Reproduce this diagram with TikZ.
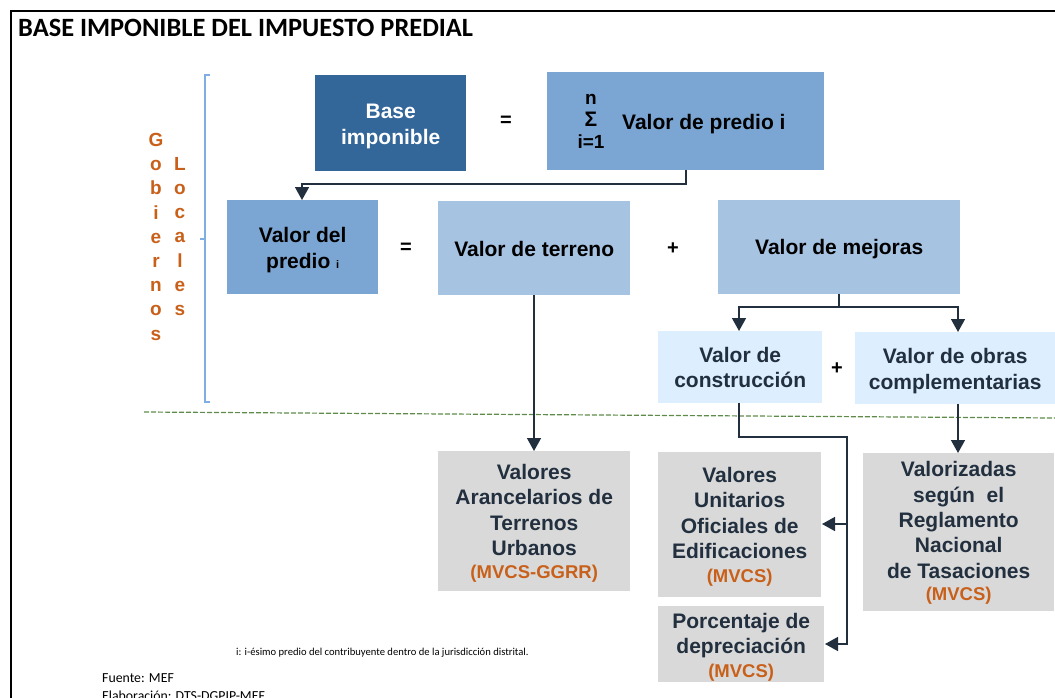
\documentclass[tikz,border=0pt]{standalone}
\usepackage{fontspec}
\setmainfont{Liberation Sans}
\newfontfamily\calib{Carlito}
\usetikzlibrary{arrows.meta,calc}
\definecolor{cDark}{HTML}{336699}
\definecolor{cMid}{HTML}{7BA6D3}
\definecolor{cSoft}{HTML}{A6C3E2}
\definecolor{cPale}{HTML}{DDEEFF}
\definecolor{cGray}{HTML}{D9D9D9}
\definecolor{cInk}{HTML}{222F3E}
\definecolor{cOrange}{HTML}{C8601A}
\definecolor{cBrack}{HTML}{7FAEE3}
\definecolor{cGreen}{HTML}{5E8A4A}
\newcommand\up[1]{\rule{0pt}{\dimexpr 15pt+#1pt*2\relax}}
\newcommand\org[1]{{\color{cOrange}\fontsize{18.5}{18.5}\selectfont #1}}
\tikzset{
  x=1pt,y=-1pt,
  box/.style n args={5}{draw=none,fill=#5,inner sep=0pt,minimum width=#3-#1,minimum height=#4-#2,
    anchor=north west,at={(#1,#2)},align=center,text=cInk,font=\bfseries\fontsize{21}{25.4}\selectfont},
  link/.style={draw=cInk,line width=1.5pt,-{Triangle[length=13pt,width=14pt]}},
  plain/.style={draw=cInk,line width=1.5pt},
  op/.style={font=\bfseries\fontsize{20}{20}\selectfont,text=black,inner sep=0pt},
  vert/.style={font=\bfseries\fontsize{19}{24.2}\selectfont,text=cOrange,align=center,anchor=north,inner sep=0pt},
}
\begin{document}
\begin{tikzpicture}
\useasboundingbox (0,0) rectangle (1055,698);
% frame
\draw[line width=2pt,black] (11,698) -- (11,11) -- (1055,11);
\node[anchor=west,inner sep=0pt,font=\calib\bfseries\fontsize{26.4}{26.4}\selectfont] (title) at (18,28) {BASE IMPONIBLE DEL IMPUESTO PREDIAL};
% bracket
\draw[cBrack,line width=1.1pt] (210,75) -- (205,75) -- (205,402) -- (210,402);
\draw[cBrack,line width=1.1pt] (200,239) -- (205,239);
\node[vert] (g) at (156,133) {G\\o\\b\\i\\e\\r\\n\\o\\s};
\node[vert] (l) at (180,157) {L\\o\\c\\a\\l\\e\\s};
% divider
\coordinate (da) at (144,412);
\coordinate (db) at (1055,418);
\draw[cGreen,line width=1.2pt,dash pattern=on 5pt off 2pt] (da) -- (db);
% boxes
\node[box={315}{75}{466}{171}{cDark},text=white] (base) {\up{3}Base\\imponible};
\node[box={547}{72}{824}{170}{cMid}] (pred) {};
\node[inner sep=0pt,anchor=west,text=black,font=\bfseries\fontsize{21}{25}\selectfont] (predt) at (622,124) {Valor de predio i};
\node[op,font=\bfseries\fontsize{19}{22}\selectfont,align=center,anchor=center] (sum) at (591,121) {n\\{\fontsize{21}{22}\selectfont Σ}\\i=1};
\node[box={227}{200}{378}{294}{cMid},text=black] (vdel) {\up{3}Valor del\\predio {\fontsize{11}{11}\selectfont i}};
\node[box={438}{201}{630}{295}{cSoft},text=black] (terr) {\up{1}Valor de terreno};
\node[box={718}{200}{960}{294}{cSoft},text=black] (mej) {\up{2}Valor de mejoras};
\node[box={658}{331}{822}{403}{cPale}] (cons) {\up{0}Valor de\\construcción};
\node[box={855}{332}{1055}{404}{cPale}] (obras) {\up{3}Valor de obras\\complementarias};
\node[box={438}{451}{630}{591}{cGray}] (aran) {\up{2}Valores\\Arancelarios de\\Terrenos\\Urbanos\\[-3pt]\org{(MVCS-GGRR)}};
\node[box={658}{452}{821}{597}{cGray}] (unit) {\up{2}Valores\\Unitarios\\Oficiales de\\Edificaciones\\[-2pt]\org{(MVCS)}};
\node[box={658}{606}{824}{682}{cGray}] (porc) {\up{3}Porcentaje de\\depreciación\\[-2pt]\org{(MVCS)}};
\node[box={863}{453}{1054}{611}{cGray}] (valz) {\up{1}Valorizadas\\según~ el\\Reglamento\\Nacional\\de Tasaciones\\[-3pt]\org{(MVCS)}};
% operators
\node[op] (e1) at (506,121) {=};
\node[op] (e2) at (406,248) {=};
\node[op] (p1) at (673,249) {+};
\node[op] (p2) at (837,369) {+};
% connectors
\coordinate (predout) at (686,170);
\coordinate (vdelin) at (302,200);
\draw[link] (predout) -- (686,184) -- (302,184) -- (vdelin);
\coordinate (mejout) at (839,294);
\coordinate (hub) at (839,307);
\draw[plain] (mejout) -- (hub);
\draw[link] (hub) -- (739,307) -- (739,331);
\draw[link] (hub) -- (958,307) -- (958,332);
\draw[link] (534,295) -- (534,451);
\coordinate (consout) at (739,403);
\coordinate (porcin) at (825,644);
\draw[link] (consout) -- (739,437) -- (847,437) -- (847,644) -- (porcin);
\draw[link] (847,524) -- (822,524);
\draw[link] (958,404) -- (958,453);
% notes
\node[anchor=west,inner sep=0pt,font=\calib\fontsize{10.6}{10.6}\selectfont] (nota) at (236,653) {i: i-ésimo predio del contribuyente dentro de la jurisdicción distrital.};
\node[anchor=west,inner sep=0pt,font=\calib\fontsize{13.8}{13.8}\selectfont] (fuente) at (102,678) {Fuente: MEF};
\node[anchor=west,inner sep=0pt,font=\calib\fontsize{13.8}{13.8}\selectfont] (elab) at (102,696) {Elaboración: DTS-DGPIP-MEF};
\end{tikzpicture}
\end{document}
